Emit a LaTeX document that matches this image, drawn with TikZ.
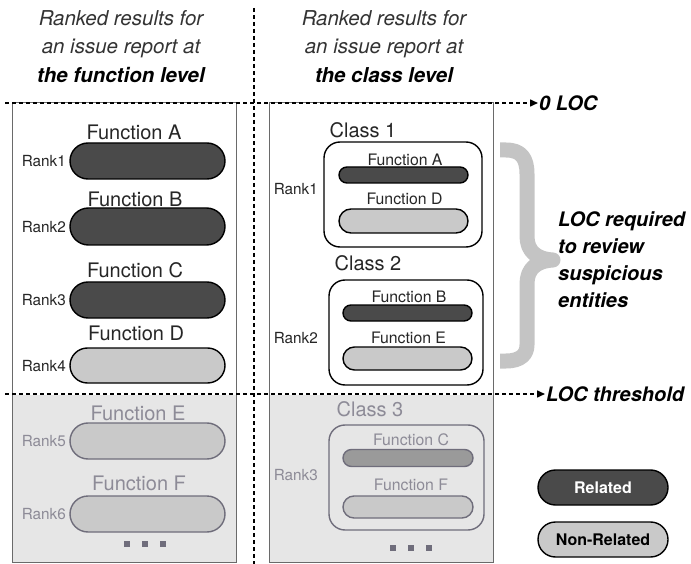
\documentclass[tikz,border=0pt]{standalone}
\usepackage{fontspec}
\setmainfont{TeX Gyre Heros}
\usetikzlibrary{shapes.misc,arrows.meta}
\definecolor{reldark}{HTML}{4A4A4A}
\definecolor{nonrel}{HTML}{C9C9C9}
\definecolor{fadebg}{HTML}{E6E6E6}
\definecolor{fadeline}{HTML}{6F6D7B}
\definecolor{fadetext}{HTML}{8D8B97}
\definecolor{midfill}{HTML}{9A9A9A}
\definecolor{bracegray}{HTML}{C4C4C4}
\definecolor{panelgray}{HTML}{6A6A6A}
\tikzset{
  pill/.style={rounded rectangle, draw=black, line width=1.4pt, inner sep=0pt},
  fadepill/.style={rounded rectangle, draw=fadeline, line width=1.4pt, inner sep=0pt, fill=nonrel},
  panel/.style={draw=panelgray, line width=1pt, inner sep=0pt},
  classbox/.style={draw=black, line width=1.4pt, rounded corners=16pt, inner sep=0pt},
  fadeclass/.style={draw=fadeline, line width=1.4pt, rounded corners=16pt, inner sep=0pt},
  title/.style={font=\fontsize{20.5}{28.5}\selectfont\itshape, align=center, text=black!80, inner sep=0pt},
  flabel/.style={font=\fontsize{20}{22}\selectfont, text=black!85, inner sep=0pt},
  slabel/.style={font=\fontsize{15.8}{18}\selectfont, text=black!85, inner sep=0pt},
  ranklabel/.style={font=\fontsize{15.3}{17}\selectfont, text=black!85, inner sep=0pt, anchor=east},
  loclabel/.style={font=\fontsize{20}{27}\selectfont\bfseries\itshape, inner sep=1pt, anchor=west},
  dashline/.style={line width=1.5pt, dash pattern=on 4pt off 3pt, -{Triangle[length=8pt,width=7pt]}},
  divider/.style={line width=1.5pt, dash pattern=on 4pt off 3pt},
  sqdot/.style={fill=fadeline, minimum size=6pt, inner sep=0pt},
  legend/.style={rounded rectangle, draw=black, line width=1.4pt, inner sep=0pt, minimum width=130pt, minimum height=35pt, font=\fontsize{16}{18}\selectfont\bfseries}
}
\begin{document}
\begin{tikzpicture}[x=1pt,y=-1pt]
\useasboundingbox (0,0) rectangle (691,564);
% panels
\fill[fadebg] (12,395) rectangle (236,562);
\fill[fadebg] (269,395) rectangle (493,562);
\node[panel, minimum width=224pt, minimum height=459pt] (lpanel) at (124,332.5) {};
\node[panel, minimum width=224pt, minimum height=459pt] (rpanel) at (381,332.5) {};
% titles
\node[title] (ltitle) at (121,46.5) {Ranked results for\\an issue report at\\{\color{black}\bfseries the function level}};
\node[title] (rtitle) at (384,46.5) {Ranked results for\\an issue report at\\{\color{black}\bfseries the class level}};
% divider
\coordinate (vtop) at (254,8);
\coordinate (vbot) at (254,564);
\draw[divider] (vtop) -- (vbot);
% LOC lines
\node[loclabel] (zeroloc) at (538,103) {0 LOC};
\coordinate (zstart) at (5,103);
\draw[dashline] (zstart) -- (zeroloc.west);
\node[loclabel] (thresh) at (545,394) {LOC threshold};
\coordinate (tstart) at (5,394);
\draw[dashline] (tstart) -- (thresh.west);
% left column
\node[flabel] (lfa) at (134,132) {Function A};
\node[pill, fill=reldark, minimum width=155pt, minimum height=36pt] (lpa) at (147.5,161) {};
\node[ranklabel] (lr1) at (66,161) {Rank1};
\node[flabel] (lfb) at (135,199) {Function B};
\node[pill, fill=reldark, minimum width=155pt, minimum height=37pt] (lpb) at (147.5,226.5) {};
\node[ranklabel] (lr2) at (66,227) {Rank2};
\node[flabel] (lfc) at (135,270) {Function C};
\node[pill, fill=reldark, minimum width=155pt, minimum height=36pt] (lpc) at (147.5,300) {};
\node[ranklabel] (lr3) at (66,300) {Rank3};
\node[flabel] (lfd) at (136,333) {Function D};
\node[pill, fill=nonrel, minimum width=155pt, minimum height=35pt] (lpd) at (147.5,365.5) {};
\node[ranklabel] (lr4) at (66,366) {Rank4};
\node[flabel, text=fadetext] (lfe) at (138,413) {Function E};
\node[fadepill, minimum width=155pt, minimum height=36pt] (lpe) at (147.5,441) {};
\node[ranklabel, text=fadetext] (lr5) at (66,441) {Rank5};
\node[flabel, text=fadetext] (lff) at (139,483) {Function F};
\node[fadepill, minimum width=155pt, minimum height=36pt] (lpf) at (147.5,514) {};
\node[ranklabel, text=fadetext] (lr6) at (66,514) {Rank6};
\node[sqdot] (ld1) at (127,544) {};
\node[sqdot] (ld2) at (145,544) {};
\node[sqdot] (ld3) at (163,544) {};
% right column
\node[flabel] (c1l) at (363,130) {Class 1};
\node[classbox, minimum width=158pt, minimum height=105pt] (c1) at (403,194.5) {};
\node[slabel] (rfa) at (405,160) {Function A};
\node[pill, fill=reldark, minimum width=129pt, minimum height=16pt] (rpa) at (403.5,175) {};
\node[slabel] (rfd) at (404.5,199) {Function D};
\node[pill, fill=nonrel, minimum width=129pt, minimum height=24pt] (rpd) at (403.5,221) {};
\node[ranklabel] (rr1) at (318,189) {Rank1};
\node[flabel] (c2l) at (368,263) {Class 2};
\node[classbox, minimum width=154pt, minimum height=105pt] (c2) at (406,332.5) {};
\node[slabel] (rfb) at (409,297) {Function B};
\node[pill, fill=reldark, minimum width=129pt, minimum height=16pt] (rpb) at (407.5,313) {};
\node[slabel] (rfe) at (408.5,338) {Function E};
\node[pill, fill=nonrel, minimum width=129pt, minimum height=23pt] (rpe) at (407.5,358.5) {};
\node[ranklabel] (rr2) at (318,338) {Rank2};
\node[flabel, text=fadetext] (c3l) at (370,409) {Class 3};
\node[fadeclass, minimum width=155pt, minimum height=105pt] (c3) at (406.5,477.5) {};
\node[slabel, text=fadetext] (rfc) at (411,440) {Function C};
\node[fadepill, fill=midfill, minimum width=130pt, minimum height=17pt] (rpc) at (408,458) {};
\node[slabel, text=fadetext] (rff) at (411,485) {Function F};
\node[fadepill, minimum width=130pt, minimum height=22pt] (rpf) at (408,507) {};
\node[ranklabel, text=fadetext] (rr3) at (318,475) {Rank3};
\node[sqdot] (rd1) at (393,548) {};
\node[sqdot] (rd2) at (411,548) {};
\node[sqdot] (rd3) at (429,548) {};
% brace
\draw[bracegray, line width=15pt, line join=round]
  (500,150) -- (506,150) .. controls (521,150) and (527,158) .. (527,174)
  -- (527,236) .. controls (527,251) and (536,259) .. (553,260)
  .. controls (536,261) and (527,269) .. (527,284)
  -- (527,345) .. controls (527,354) and (521,361) .. (506,361) -- (500,361);
\node[loclabel, align=left] (bracetext) at (557,260) {LOC required\\to review\\suspicious\\entities};
% legend
\node[legend, fill=reldark, text=white] (legrel) at (603,487.5) {Related};
\node[legend, fill=nonrel, text=black] (legnon) at (603,539.5) {Non-Related};
\end{tikzpicture}
\end{document}
